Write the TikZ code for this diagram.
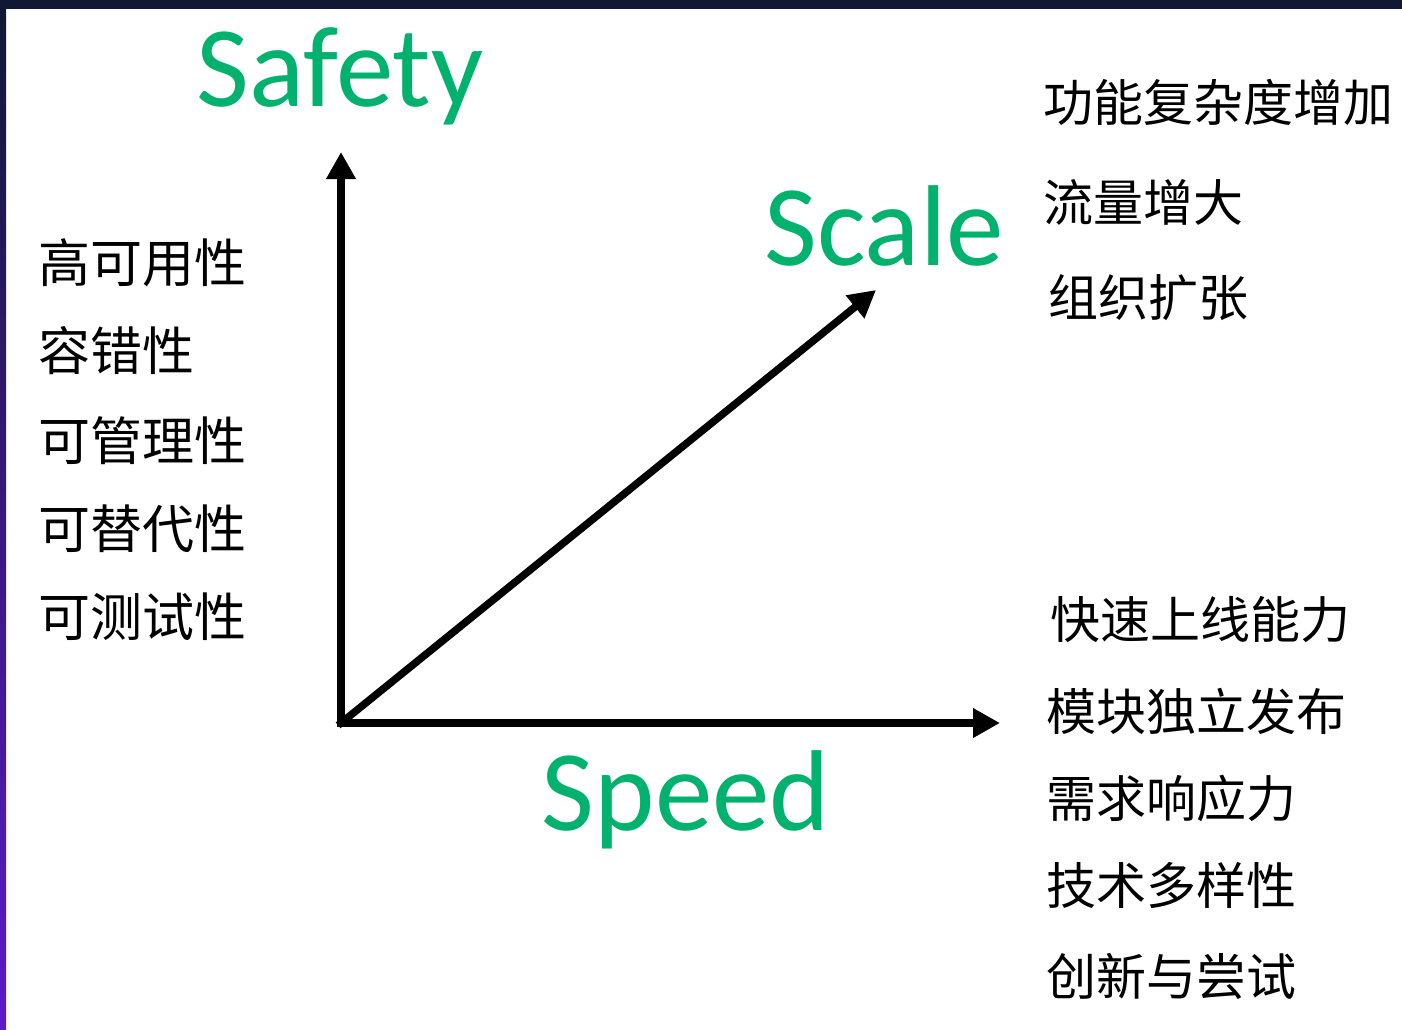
\documentclass[tikz,border=0pt]{standalone}
\usepackage{fontspec}
\setsansfont{Carlito}
\newfontfamily\cjk{Noto Sans CJK SC}
\usetikzlibrary{arrows.meta}
\definecolor{dimgreen}{HTML}{00B26E}
\definecolor{bandnavy}{HTML}{101834}
\definecolor{stripmid}{HTML}{2C3A86}
\definecolor{stripviolet}{HTML}{5D1AC8}
\tikzset{
  dimword/.style={font=\sffamily\fontsize{115}{115}\selectfont, text=dimgreen, anchor=base, inner sep=0pt},
  trait/.style={font=\cjk\fontsize{52}{52}\selectfont, anchor=west, inner sep=0pt},
  rtrait/.style={trait, font=\cjk\fontsize{50}{50}\selectfont},
  axis/.style={line width=7.5pt, line cap=rect, -{Triangle[length=27pt,width=28pt]}},
}
\begin{document}
\begin{tikzpicture}[x=1pt,y=-1pt]
% frame
\useasboundingbox (0,0) rectangle (1402,1030);
\fill[white] (0,0) rectangle (1402,1030);
\shade[top color=bandnavy, middle color=stripmid, bottom color=stripviolet] (0,0) rectangle (6,1030);
\fill[bandnavy] (0,0) rectangle (1402,9);
% axes
\coordinate (O) at (341,723);
\coordinate (safetytip) at (341,152);
\coordinate (speedtip) at (1000,723);
\coordinate (scaletip) at (876,290);
\draw[axis] (O) -- (safetytip);
\draw[axis] (O) -- (speedtip);
\draw[axis] (O) -- (scaletip);
% axis names
\node[dimword] (safety) at (340,107){Safety};
\node[dimword] (scale) at (884,265){Scale};
\node[dimword] (speed) at (686,830){Speed};
% safety traits
\node[trait] (ha) at (38,263){高可用性};
\node[trait] (ft) at (38,351){容错性};
\node[trait] (mg) at (38,441){可管理性};
\node[trait] (rp) at (38,529){可替代性};
\node[trait] (ts) at (38,617){可测试性};
% scale traits
\node[rtrait] (fc) at (1043,102){功能复杂度增加};
\node[rtrait] (tr) at (1043,202){流量增大};
\node[rtrait] (og) at (1048,298){组织扩张};
% speed traits
\node[rtrait] (ql) at (1050,620){快速上线能力};
\node[rtrait] (mr) at (1046,711){模块独立发布};
\node[rtrait] (dr) at (1046,798){需求响应力};
\node[rtrait] (td) at (1046,885){技术多样性};
\node[rtrait] (in) at (1046,976){创新与尝试};
\end{tikzpicture}
\end{document}
